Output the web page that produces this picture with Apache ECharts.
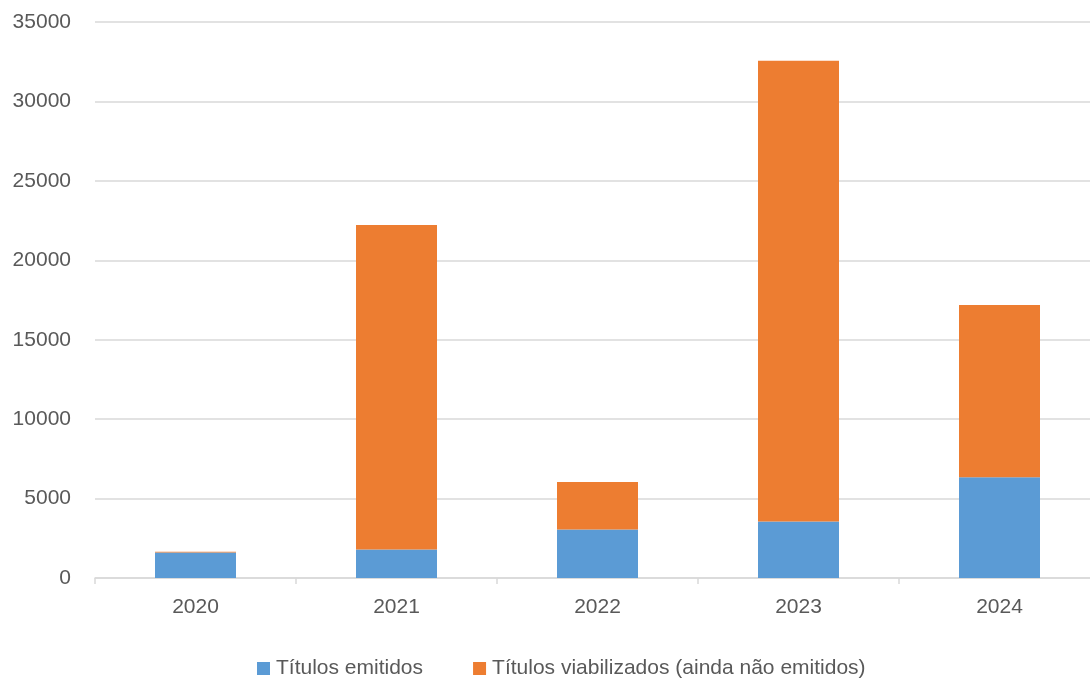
<!DOCTYPE html>
<html>
<head>
    <meta charset="utf-8" />
    <title></title>
    <script src="https://cdn.jsdelivr.net/npm/echarts@6/dist/echarts.min.js"></script>
    <style>
        html, body { margin: 0; padding: 0; background: #fff; overflow: hidden; }
    </style>
</head>
<body>
    <div id="main" style="width: 1090px; height: 679px;"></div>
    <script type="text/javascript">
        // dados
        var anos = ['2020', '2021', '2022', '2023', '2024'];
        var emitidos = [1600, 1800, 3050, 3550, 6350];
        var viabilizados = [60, 20420, 3000, 29010, 10840];
        var serieNomes = ['Títulos emitidos', 'Títulos viabilizados (ainda não emitidos)'];

        var fonte = '"Liberation Sans", "DejaVu Sans", sans-serif';
        var myChart = echarts.init(document.getElementById('main'));
        var option = {
            animation: false,
            color: ['#5b9bd5', '#ed7d31'],
            grid: {
                left: 95,
                width: 1005,
                top: 22,
                height: 556,
                outerBoundsMode: 'none'
            },
            legend: {
                data: serieNomes,
                top: 653,
                left: 252,
                itemWidth: 13,
                itemHeight: 13,
                itemGap: 50,
                icon: 'rect',
                textStyle: { color: '#595959', fontSize: 21, fontFamily: fonte, padding: [0, 0, 0, 1] }
            },
            xAxis: {
                type: 'category',
                data: anos,
                axisLine: { lineStyle: { color: '#d9d9d9', width: 1.5 } },
                axisTick: { show: true, length: 6, lineStyle: { color: '#d9d9d9', width: 1.5 } },
                axisLabel: { color: '#595959', fontSize: 21, fontFamily: fonte, margin: 19 }
            },
            yAxis: {
                type: 'value',
                min: 0,
                max: 35000,
                interval: 5000,
                axisLine: { show: false },
                axisTick: { show: false },
                splitLine: { lineStyle: { color: '#d9d9d9', width: 1.5 } },
                axisLabel: {
                    color: '#595959', fontSize: 21, fontFamily: fonte, margin: 24,
                    formatter: function (v) { return String(v); }
                }
            },
            series: [
                {
                    name: serieNomes[0],
                    type: 'bar',
                    stack: 'total',
                    barWidth: 81,
                    data: emitidos
                },
                {
                    name: serieNomes[1],
                    type: 'bar',
                    stack: 'total',
                    barWidth: 81,
                    data: viabilizados
                }
            ]
        };
        myChart.setOption(option);
    </script>
</body>
</html>
